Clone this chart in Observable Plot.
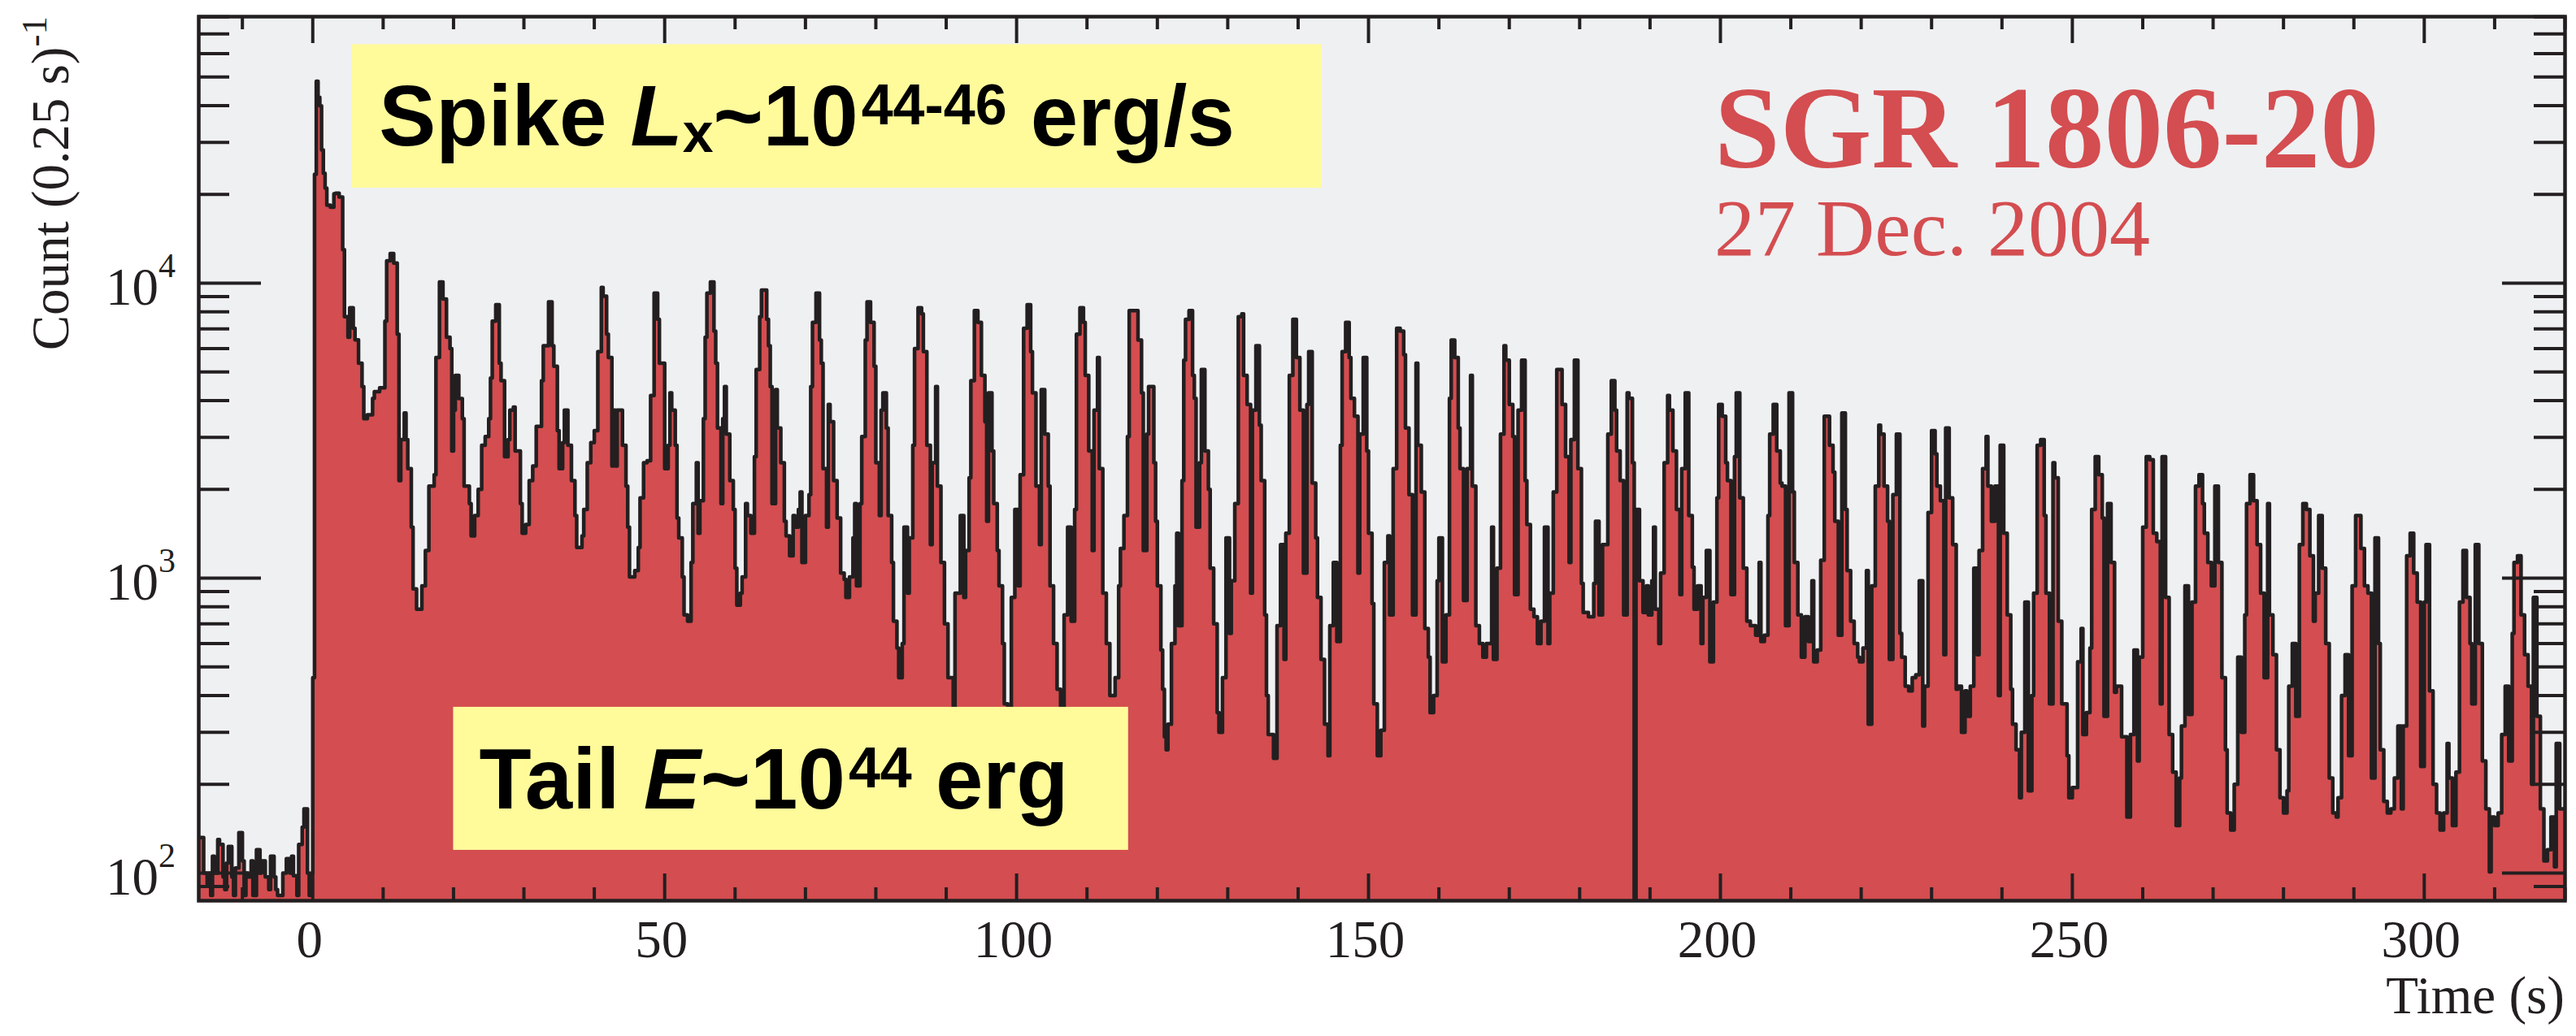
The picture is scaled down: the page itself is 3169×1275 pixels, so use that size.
<!DOCTYPE html>
<html>
<head>
<meta charset="utf-8">
<script src="https://cdn.jsdelivr.net/npm/d3@7"></script>
<script src="https://cdn.jsdelivr.net/npm/@observablehq/plot@0.6"></script>
<style>
html, body { margin: 0; padding: 0; background: #ffffff; overflow: hidden; }
</style>
</head>
<body>
<div id="chart"></div>
<script>
// ---------------- DATA ----------------
// Pre-flare background, 0.25 s bins starting at -16.25 s
const preFlareStart = -16.25;
const preFlareBin = 0.25;
const preFlareCounts = [
  132,132,132,100,100,92,100,84,114,100,
  100,130,125,125,97,88,108,123,123,97,
  84,104,104,137,137,110,84,100,97,97,
  110,84,84,120,120,100,110,110,97,97,
  88,114,114,97,88,84,84,84,100,100,
  112,112,100,114,98,98,84,125,125,143,
  165,165,100,84,100
];
// [bin start time (s), count per 0.25 s] – initial spike and first pulses
const spikeSegments = [
  [0,460],[0.25,23400],[0.5,48400],[0.75,42700],[1,39900],[1.25,28300],[1.5,23600],[1.75,21000],[2,18400],[2.5,18100],
  [3,20100],[3.25,20200],[3.75,19600],[4.25,13000],[4.5,7700],[5,6560],[5.25,8260],[5.75,7030],[6,6430],[6.5,5350],
  [7,4460],[7.25,3470],[7.75,3580],[8.5,4070],[8.75,4290],[9.5,4420],[10.25,7430],[10.5,11900],[11,12600],[11.5,11700],
  [12,6720],[12.25,2140],[12.5,2950],[13,3630],[13.25,2950],[13.5,2350],[14,1490],[14.25,920],[14.75,785],[15.5,942],
  [16,1240],[16.5,2050],[17.25,2240],[17.5,5600],[18,10100],[18.5,8840],[19,6560],[19.5,6000],[19.75,2700],[20,3710],
  [20.25,4870],[20.75,4060],[21.25,3470],[21.5,2050],[22.25,1790],[22.5,1390],[23,1630],[23.5,2000],[24,2820],[24.5,3020],
  [25,3470],[25.25,4770],[25.5,7430],[26,8450],[26.5,5350],[26.75,4670],[27.25,2580],[27.75,2950],[28,3710],[28.5,3800],
  [28.75,2700],[29.5,1790],[29.75,1420],[30.25,1520],[30.75,2140],[31.25,2400],[31.75,3270],[32.5,4670],[32.75,6140],[33.5,8650],
  [34,6140],[34.25,5230],[34.75,3160],[35,2350],[35.5,2880],[35.75,3710],[36.25,2820],[36.75,2140],[37.25,1630],[37.5,1270],
  [38.25,1390],[38.5,1710],[39,2460],[39.5,2880],[40,3160],[40.5,5860],[41,9680],[41.25,9040],[41.75,6720],[42,5600],
  [42.5,2400],[42.75,3710],[43,2400],[43.25,3710],[44,2820],[44.5,2050],[44.75,1490],[45,1010],[45.75,1060],[46.25,1270],
  [46.5,1870],[47,2460],[47.5,2500],[48,4160],[48.5,9250],[49,7540],[49.25,5350]
];
const tailSegmentsA = [ // 50 – 117 s
  [50,2350],[50.5,2820],[50.75,4250],[51,3710],[51.5,2820],[51.75,1600],[52,1370],[52.5,1010],[52.75,750],[53.25,715],
  [53.75,1130],[54,1790],[54.5,2460],[54.75,1420],[55,1830],[55.5,3470],[55.75,6560],[56,9250],[56.5,10100],[57,6880],
  [57.25,5350],[57.5,3230],[58,1790],[58.25,3470],[58.5,4460],[58.75,3080],[59.25,2140],[59.75,1710],[60,1080],[60.25,810],
  [60.75,890],[61,1010],[61.5,1790],[61.75,1630],[62.25,1420],[62.75,2580],[63,5100],[63.5,7700],[63.75,9470],[64.5,7540],
  [64.75,6140],[65,4460],[65.25,1790],[65.75,4360],[66,3230],[66.5,2460],[67,1560],[67.25,1390],[67.75,1190],[68.25,1630],
  [68.5,1490],[69,1710],[69.25,1960],[69.5,1130],[70,1630],[70.5,1920],[70.75,4460],[71,7360],[71.5,9250],[72,6420],
  [72.25,5350],[72.5,2350],[73,1490],[73.25,3880],[73.5,3390],[74,2140],[74.5,1600],[75,1040],[75.5,990],[75.75,860],
  [76.25,1010],[76.75,1370],[77,1790],[77.25,942],[77.75,1790],[78,3020],[78.5,6420],[78.75,8650],[79.25,7360],[79.75,5230],
  [80,2460],[80.5,1630],[80.75,3710],[81,4250],[81.5,3230],[81.75,1630],[82.25,1130],[82.5,715],[83,580],[83.25,460],
  [83.75,600],[84,1490],[84.5,890],[84.75,1370],[85.25,2820],[85.5,6000],[86,8260],[86.5,7870],[86.75,5860],[87.25,2820],
  [87.75,1300],[88,2460],[88.5,4460],[88.75,2050],[89.25,1130],[89.75,700],[90.25,460],[91,280],[91.25,890],[92,1630],
  [92.5,860],[92.75,1240],[93.25,2190],[93.5,4670],[94,8070],[94.5,7360],[95,4870],[95.5,3390],[95.75,1560],[96,4250],
  [96.5,2700],[96.75,1790],[97.25,1240],[97.5,942],[98,600],[98.25,375],[98.75,320],[99.25,860],[99.75,1710],[100.25,942],
  [100.5,2240],[101,7030],[101.5,8450],[102,5860],[102.25,4250],[102.75,2050],[103.25,1300],[103.5,4360],[104,3080],[104.5,2050],
  [104.75,942],[105.25,600],[105.75,420],[106.25,330],[106.75,750],[107.25,1490],[107.75,715],[108.25,1710],[108.5,6720],[109,8260],
  [109.5,7360],[109.75,4870],[110.25,2700],[110.75,1240],[111,3710],[111.5,5600],[111.75,2350],[112.25,890],[112.75,600],[113.25,400],
  [114,460],[114.5,942],[114.75,1260],[115.25,1630],[115.75,3020],[116,8070]
];
const tailSegmentsB = [ // 117 – 183.5 s
  [117.25,6420],[117.75,4250],[118,1240],[118.5,3080],[118.75,4460],[119.5,2460],[119.75,1560],[120,942],[120.5,570],[120.75,420],
  [121,290],[121.25,262],[121.5,320],[122,600],[122.5,942],[122.75,1420],[123,690],[123.5,2140],[123.75,5480],[124,7540],
  [124.5,8070],[125,4870],[125.25,4070],[125.5,1490],[126,2460],[126.25,5100],[126.75,2700],[127.25,2000],[127.5,1080],[128,700],
  [128.5,350],[128.75,300],[129.25,460],[129.75,1370],[130.25,650],[130.5,980],[131,1790],[131.5,7700],[132,7870],[132.25,4870],
  [132.75,3880],[133.25,890],[133.5,3710],[134,6140],[134.5,3300],[134.75,2140],[135.25,750],[135.5,400],[135.75,295],[136.5,245],
  [137,690],[137.5,1300],[138,530],[138.25,1420],[138.75,4870],[139.25,7540],[139.75,5600],[140.25,3710],[140.75,1040],[141.25,3880],
  [141.5,5860],[142,2100],[142.5,1370],[142.75,860],[143.25,530],[143.75,320],[144.25,250],[144.5,690],[145,1130],[145.5,610],
  [146,2820],[146.25,5860],[146.75,7360],[147.25,5600],[147.5,4070],[148,3540],[148.5,1040],[148.75,3080],[149.25,5600],[149.75,2700],
  [150,1420],[150.5,820],[150.75,375],[151.25,250],[151.75,305],[152.25,1130],[152.75,1390],[153,750],[153.5,2350],[154,7030],
  [154.5,6880],[155,5720],[155.25,3230],[155.75,1920],[156.25,750],[156.75,5350],[157,2820],[157.5,1960],[158,675],[158.5,540],
  [158.75,350],[159.25,400],[159.75,980],[160,1370],[160.5,520],[161,750],[161.5,4070],[161.75,6420],[162.25,5600],[162.75,3230],
  [163,2350],[163.5,840],[164,2350],[164.5,4870],[164.75,2050],[165.25,690],[165.75,600],[166.25,540],[166.75,600],[167.5,1490],
  [167.75,530],[168.25,1080],[168.75,3080],[169.25,6140],[169.5,5480],[170,3880],[170.5,3020],[170.75,880],[171.25,3710],[171.75,5480],
  [172.25,2140],[172.5,1520],[173,785],[173.5,740],[174,600],[174.5,715],[175,1490],[175.5,600],[175.75,890],[176.25,1960],
  [176.75,5100],[177.5,3880],[178,2580],[178.5,1130],[178.75,2950],[179.25,5480],[179.75,2350],[180.25,960],[180.5,765],[181.25,740],
  [182,960],[182.25,1560],[182.75,750],[183.25,1300]
];
const tailSegmentsC = [ // 184 – 250 s
  [184,3080],[184.5,4670],[185,3710],[185.25,2700],[185.75,2140],[186.25,750],[186.75,4250],[187,4070],[187.5,2460],[187.75,60],
  [188,1710],[188.5,980],[189,765],[189.5,942],[189.75,750],[190.25,980],[190.5,1490],[190.75,785],[191.25,600],[191.5,1040],
  [192,2460],[192.5,4160],[192.75,3710],[193.25,2700],[193.75,1710],[194.25,880],[194.5,2350],[195,4250],[195.5,1630],[196,1090],
  [196.25,785],[196.75,942],[197.25,600],[197.5,860],[198,1240],[198.5,520],[199,830],[199.5,1870],[199.75,3880],[200.25,3540],
  [200.75,2460],[201,2140],[201.5,880],[202,2580],[202.25,4250],[202.75,1870],[203.25,1080],[203.75,715],[204.25,690],[205,640],
  [205.5,1130],[205.75,610],[206.25,640],[206.75,1630],[207,3080],[207.5,3880],[208,2700],[208.5,2100],[208.75,2050],[209.25,690],
  [209.75,4250],[210.25,1960],[210.5,1130],[211,750],[211.5,540],[212,740],[212.5,610],[213,980],[213.25,520],[213.75,570],
  [214.25,1150],[214.75,3540],[215.5,2820],[216,2290],[216.25,1560],[216.75,640],[217.25,3630],[217.75,1710],[218,1060],[218.5,715],
  [219,600],[219.5,540],[219.75,520],[220.25,580],[220.75,1060],[221,320],[221.5,942],[222,2050],[222.5,3300],[222.75,3080],
  [223.25,2050],[223.75,1560],[224,530],[224.5,1920],[225,3080],[225.5,650],[225.75,540],[226.25,430],[226.75,415],[227.25,460],
  [227.75,470],[228.25,980],[228.75,315],[229,430],[229.5,1670],[230,3160],[230.5,2640],[230.75,2050],[231.25,1830],[231.75,550],
  [232,3230],[232.5,1870],[233,1300],[233.5,420],[233.75,430],[234.25,300],[234.75,415],[235,340],[235.5,430],[236,1080],
  [236.5,550],[236.75,1240],[237.25,2350],[237.75,3020],[238,2050],[238.5,1560],[239,2050],[239.5,400],[239.75,2820],[240.25,1420],
  [240.75,750],[241.25,420],[241.5,320],[242,262],[242.5,180],[242.75,300],[243.25,830],[243.75,190],[244.25,400],[244.5,890],
  [245,2820],[245.5,2950],[246,1630],[246.25,890],[246.75,375],[247.25,2460],[247.5,2190],[248,715],[248.5,375],[249.25,250],
  [249.5,180]
];
const tailSegmentsD = [ // 250 – 320 s
  [250,195],[250.75,520],[251.25,675],[251.5,295],[252,350],[252.5,580],[252.75,1710],[253.25,2580],[253.75,2240],[254.25,1600],
  [254.5,340],[255,1790],[255.5,1130],[256,410],[256.25,430],[257,290],[257.75,155],[258.25,295],[258.75,570],[259.25,240],
  [259.5,540],[260,1490],[260.5,2580],[261,2520],[261.5,1420],[262,1330],[262.5,375],[262.75,2580],[263.25,860],[263.75,295],
  [264.25,220],[264.75,145],[265.25,210],[265.5,315],[266,942],[266.5,345],[267,830],[267.5,2050],[268,2240],[268.5,1790],
  [268.75,1420],[269.25,1130],[269.75,942],[270.25,2050],[270.75,1130],[271.25,460],[271.75,262],[272,160],[272.5,140],[273,200],
  [273.5,540],[274,300],[274.5,750],[274.75,1790],[275.25,2240],[275.75,1830],[276.25,1300],[276.75,890],[277.25,460],[277.75,1790],
  [278,750],[278.5,550],[279,262],[279.5,180],[280,160],[280.5,190],[280.75,430],[281.25,600],[281.75,340],[282.25,1300],
  [282.75,1790],[283.25,1710],[283.75,1190],[284.25,715],[284.5,890],[285,1630],[285.5,1080],[286,600],[286.5,210],[287,160],
  [287.5,155],[287.75,180],[288.25,400],[288.75,550],[289.25,250],[289.75,942],[290.25,1630],[291,1260],[291.5,942],[292,890],
  [292.5,210],[293,1370],[293.5,600],[293.75,262],[294.25,175],[294.75,160],[295.25,165],[295.75,210],[296.25,315],[296.75,165],
  [297,315],[297.5,1190],[298,1420],[298.5,1040],[299,830],[299.5,230],[300,830],[300.25,1300],[300.75,415],[301.25,200],
  [301.75,160],[302.25,140],[302.75,160],[303.25,275],[303.5,210],[304,145],[304.5,220],[305,830],[305.5,1240],[306,860],
  [306.5,600],[306.75,375],[307.25,1300],[307.75,600],[308.25,240],[308.75,165],[309.25,101],[309.5,155],[310,145],[310.5,160],
  [311,295],[311.5,430],[312,240],[312.5,650],[312.75,1130],[313.25,1190],[313.75,750],[314.25,550],[314.75,430],[315.25,200],
  [315.5,860],[316,340],[316.5,165],[317,110],[317.5,120],[318,155],[318.5,105],[318.75,275],[319.25,165]
];

// Axis ticks and labels
const xRange = [-16.2, 320];
const yRange = [80.6, 80100];
const xTickValues = [0, 50, 100, 150, 200, 250, 300];
const yTickValues = [100, 1000, 10000];
const yTickExponents = ["2", "3", "4"];
const xTitle = "Time (s)";
const yTitle = "Count (0.25 s)";
const yTitleSup = "-1";

// Annotations (boxes in data coordinates)
const boxes = [
  {name: "spike", x1: 5.54, x2: 143.4, y1: 21000, y2: 64400},
  {name: "tail",  x1: 20.0, x2: 115.9, y1: 119.5, y2: 365}
];
const sourceName = "SGR 1806-20";
const sourceDate = "27 Dec. 2004";
const sourceAnchor = {t: 199.2, name: 24600, date: 12410};

// ---------------- STYLE ----------------
const RED = "#d44d50";
const INK = "#231f20";
const BG = "#eff0f2";
const YELLOW = "#fffb9b";
const SERIF = "'Liberation Serif','Times New Roman',Times,serif";
const SANS = "'Liberation Sans',Arial,Helvetica,sans-serif";

const W = 3169, H = 1275;
const M = {top: 20, right: 14, bottom: 167, left: 244};
const innerW = W - M.left - M.right;
const innerH = H - M.top - M.bottom;

// ---------------- BUILD ----------------
const data = [];
preFlareCounts.forEach((c, i) => data.push({t: preFlareStart + i * preFlareBin, c}));
for (const seg of [spikeSegments, tailSegmentsA, tailSegmentsB, tailSegmentsC, tailSegmentsD]) {
  for (const [t, c] of seg) data.push({t, c});
}
data.sort((a, b) => a.t - b.t);
data.push({t: xRange[1], c: data[data.length - 1].c});

const xMinor = d3.range(-10, 321, 10).filter(v => v % 50 !== 0);
const yMinor = [];
for (let k = 1; k <= 4; k++) for (let m = 2; m <= 9; m++) {
  const v = m * 10 ** k;
  if (v >= yRange[0] && v <= yRange[1]) yMinor.push(v);
}

const tickStyle = {stroke: INK, strokeWidth: 4};

const chart = Plot.plot({
  width: W,
  height: H,
  marginTop: M.top, marginRight: M.right, marginBottom: M.bottom, marginLeft: M.left,
  style: {fontFamily: SERIF, background: "#ffffff", color: INK},
  x: {domain: xRange},
  y: {type: "log", domain: yRange, axis: null},
  marks: [
    Plot.frame({fill: BG}),
    Plot.areaY(data, {x: "t", y1: 1, y2: "c", curve: "step-after", fill: RED, clip: true}),
    Plot.lineY(data, {x: "t", y: "c", curve: "step-after", stroke: INK, strokeWidth: 4.5, clip: true}),
    Plot.rect(boxes, {x1: "x1", x2: "x2", y1: "y1", y2: "y2", fill: YELLOW}),
    // x ticks (bottom and top, inward)
    Plot.ruleX(xTickValues, {...tickStyle, insetTop: innerH - 33}),
    Plot.ruleX(xMinor, {...tickStyle, insetTop: innerH - 16}),
    Plot.ruleX(xTickValues, {...tickStyle, insetBottom: innerH - 33}),
    Plot.ruleX(xMinor, {...tickStyle, insetBottom: innerH - 16}),
    // y ticks (left and right, inward)
    Plot.ruleY(yTickValues, {...tickStyle, insetRight: innerW - 77}),
    Plot.ruleY(yMinor, {...tickStyle, insetRight: innerW - 38}),
    Plot.ruleY(yTickValues, {...tickStyle, insetLeft: innerW - 77}),
    Plot.ruleY(yMinor, {...tickStyle, insetLeft: innerW - 38}),
    Plot.axisX({ticks: xTickValues, tickSize: 0, tickPadding: 23, fontSize: 65, fill: INK,
                label: null, dx: -4, tickFormat: d => String(d)}),
    Plot.frame({stroke: INK, strokeWidth: 4.5})
  ]
});

document.getElementById("chart").appendChild(chart);

const sx = chart.scale("x"), sy = chart.scale("y");
const svg = d3.select(chart);

// y tick labels 10^k
yTickValues.forEach((v, i) => {
  const t = svg.append("text")
    .attr("x", 216).attr("y", sy.apply(v) + 27)
    .attr("text-anchor", "end").attr("font-family", SERIF)
    .attr("font-size", 65).attr("fill", INK);
  t.append("tspan").text("10");
  t.append("tspan").attr("font-size", 42).attr("dy", -34).text(yTickExponents[i]);
});

// y title (rotated, right-aligned to top of frame)
const yt = svg.append("text")
  .attr("transform", `translate(84, ${M.top}) rotate(-90)`)
  .attr("text-anchor", "end").attr("font-family", SERIF)
  .attr("font-size", 65).attr("fill", INK);
yt.append("tspan").text(yTitle);
yt.append("tspan").attr("font-size", 45).attr("dy", -27).text(yTitleSup);

// x title (right-aligned to frame)
svg.append("text")
  .attr("x", W - M.right).attr("y", 1247)
  .attr("text-anchor", "end").attr("font-family", SERIF)
  .attr("font-size", 65).attr("fill", INK).text(xTitle);

// Spike annotation
{
  const b = boxes[0];
  const t = svg.append("text")
    .attr("x", sx.apply(b.x1) + 34).attr("y", sy.apply(b.y1) - 52)
    .attr("text-anchor", "start")
    .attr("font-family", SANS).attr("font-weight", "bold")
    .attr("font-size", 105).attr("fill", "#000");
  t.append("tspan").text("Spike ");
  t.append("tspan").attr("font-style", "italic").text("L");
  t.append("tspan").attr("font-size", 68).attr("dy", 8).text("x");
  t.append("tspan").attr("dy", -8).text("~10");
  t.append("tspan").attr("font-size", 70).attr("dy", -26).attr("dx", 4).text("44-46");
  t.append("tspan").attr("dy", 26).text(" erg/s");
}
// Tail annotation
{
  const b = boxes[1];
  const t = svg.append("text")
    .attr("x", sx.apply(b.x1) + 32).attr("y", sy.apply(b.y1) - 51)
    .attr("text-anchor", "start")
    .attr("font-family", SANS).attr("font-weight", "bold")
    .attr("font-size", 105).attr("fill", "#000");
  t.append("tspan").text("Tail ");
  t.append("tspan").attr("font-style", "italic").text("E");
  t.append("tspan").text("~10");
  t.append("tspan").attr("font-size", 70).attr("dy", -26).attr("dx", 4).text("44");
  t.append("tspan").attr("dy", 26).text(" erg");
}
// Source name and date
svg.append("text")
  .attr("x", sx.apply(sourceAnchor.t)).attr("y", sy.apply(sourceAnchor.name))
  .attr("text-anchor", "start")
  .attr("font-family", SERIF).attr("font-weight", "bold")
  .attr("font-size", 145).attr("fill", RED).text(sourceName);
svg.append("text")
  .attr("x", sx.apply(sourceAnchor.t)).attr("y", sy.apply(sourceAnchor.date))
  .attr("text-anchor", "start")
  .attr("font-family", SERIF)
  .attr("font-size", 100).attr("fill", RED).text(sourceDate);
</script>
</body>
</html>
